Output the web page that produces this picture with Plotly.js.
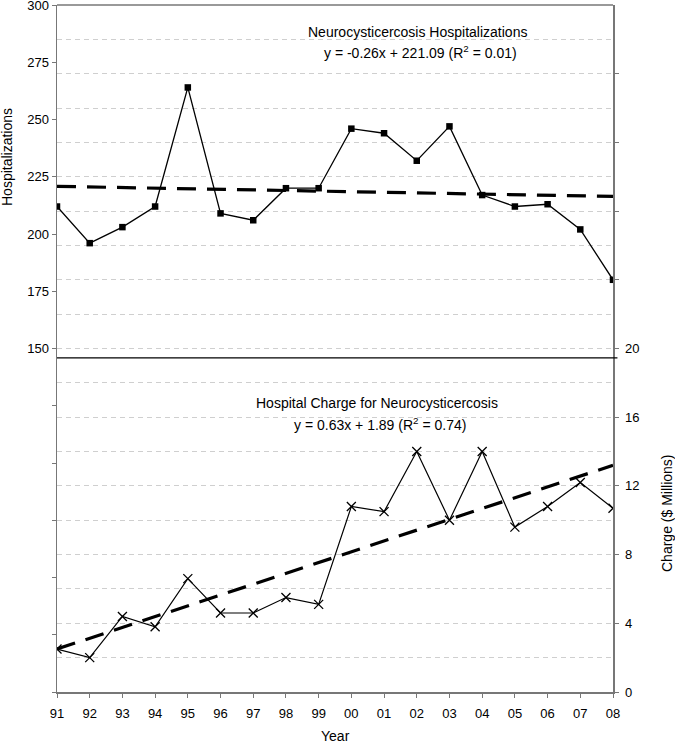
<!DOCTYPE html>
<html>
<head>
<meta charset="utf-8">
<script src="https://cdn.plot.ly/plotly-3.0.1.min.js"></script>
<style>html,body{margin:0;padding:0;background:#fff;}#chart{width:675px;height:742px;}</style>
</head>
<body>
<div id="chart"></div>
<script>
const years = ["91","92","93","94","95","96","97","98","99","00","01","02","03","04","05","06","07","08"];
const hospitalizations = [212,196,203,212,264,209,206,220,220,246,244,232,247,217,212,213,202,180];
const charges = [2.5,2.0,4.4,3.8,6.6,4.6,4.6,5.5,5.1,10.8,10.5,14.0,10.0,14.0,9.6,10.8,12.2,10.7];
const trendYears = ["91","08"];
const hospTrend = [220.8,216.4];
const chargeTrend = [2.5,13.2];
const leftTickVals = [0,25,50,75,100,125,150,175,200,225,250,275,300];
const leftTickText = ["","","","","","","150","175","200","225","250","275","300"];
const rightTickVals = [0,4,8,12,16,20,24,28,32,36];
const rightTickText = ["0","4","8","12","16","20","","","",""];

const fam = "Liberation Sans, Arial, sans-serif";
const tickFont = {family: fam, size: 13, color: "#000"};
const textFont = {family: fam, size: 14, color: "#000"};

const traces = [
  {x: years, y: hospitalizations, type: "scatter", mode: "lines+markers", yaxis: "y",
   line: {color: "#000", width: 1.3}, marker: {symbol: "square", size: 6.5, color: "#000"}, showlegend: false, hoverinfo: "skip"},
  {x: trendYears, y: hospTrend, type: "scatter", mode: "lines", yaxis: "y",
   line: {color: "#000", width: 3.2, dash: "19px,11px"}, showlegend: false, hoverinfo: "skip"},
  {x: years, y: charges, type: "scatter", mode: "lines+markers", yaxis: "y2",
   line: {color: "#000", width: 1.2}, marker: {symbol: "x-thin", size: 9, color: "#000", line: {color: "#000", width: 1.3}}, showlegend: false, hoverinfo: "skip"},
  {x: trendYears, y: chargeTrend, type: "scatter", mode: "lines", yaxis: "y2",
   line: {color: "#000", width: 3.2, dash: "19px,11px"}, showlegend: false, hoverinfo: "skip"}
];

const layout = {
  width: 675, height: 742,
  margin: {l: 57, r: 62, t: 5, b: 50},
  paper_bgcolor: "#fff", plot_bgcolor: "#fff",
  font: textFont,
  xaxis: {
    type: "category", categoryorder: "array", categoryarray: years,
    range: [0, 17], showgrid: false, zeroline: false,
    showline: true, linecolor: "#777", linewidth: 1.5, mirror: false,
    ticks: "outside", ticklen: 4, tickcolor: "#777", ticklabelstandoff: 5,
    tickfont: tickFont
  },
  yaxis: {
    range: [0, 300], tickmode: "array", tickvals: leftTickVals, ticktext: leftTickText,
    showgrid: false, zeroline: false, showline: true, linecolor: "#777", linewidth: 1.5,
    ticks: "outside", ticklen: 4, tickcolor: "#777", ticklabeloverflow: "allow",
    tickfont: tickFont
  },
  yaxis2: {
    overlaying: "y", side: "right", range: [0, 40],
    tickmode: "array", tickvals: rightTickVals, ticktext: rightTickText,
    showgrid: true, gridcolor: "#cfcfcf", gridwidth: 1, griddash: "5px,4px",
    minor: {dtick: 2, tick0: 0, showgrid: true, gridcolor: "#cfcfcf", gridwidth: 1, griddash: "5px,4px", ticks: ""},
    zeroline: false, showline: true, linecolor: "#777", linewidth: 1.5,
    ticks: "outside", ticklen: 4, tickcolor: "#777", ticklabelstandoff: 4, ticklabeloverflow: "allow",
    tickfont: tickFont
  },
  shapes: [
    {type: "line", xref: "paper", yref: "y2", x0: 0, x1: 1.008, y0: 19.45, y1: 19.45, line: {color: "#000", width: 1.3}},
    {type: "line", xref: "paper", yref: "paper", x0: 0, x1: 1, y0: 1, y1: 1, line: {color: "#777", width: 1.5}}
  ],
  annotations: [
    {xref: "paper", yref: "paper", x: (417-57)/556, y: 1-(32-5)/687, text: "Neurocysticercosis Hospitalizations", showarrow: false, font: textFont, xanchor: "center", yanchor: "middle"},
    {xref: "paper", yref: "paper", x: (420-57)/556, y: 1-(52-5)/687, text: "y = -0.26x + 221.09 (R<sup>2</sup> = 0.01)", showarrow: false, font: textFont, xanchor: "center", yanchor: "middle"},
    {xref: "paper", yref: "paper", x: (377-57)/556, y: 1-(403-5)/687, text: "Hospital Charge for Neurocysticercosis", showarrow: false, font: textFont, xanchor: "center", yanchor: "middle"},
    {xref: "paper", yref: "paper", x: (380-57)/556, y: 1-(424-5)/687, text: "y = 0.63x + 1.89 (R<sup>2</sup> = 0.74)", showarrow: false, font: textFont, xanchor: "center", yanchor: "middle"},
    {xref: "paper", yref: "paper", x: (7-57)/556, y: 1-(157-5)/687, text: "Hospitalizations", textangle: -90, showarrow: false, font: textFont, xanchor: "center", yanchor: "middle"},
    {xref: "paper", yref: "paper", x: (667-57)/556, y: 1-(514-5)/687, text: "Charge ($ Millions)", textangle: -90, showarrow: false, font: textFont, xanchor: "center", yanchor: "middle"},
    {xref: "paper", yref: "paper", x: (335-57)/556, y: 1-(736-5)/687, text: "Year", showarrow: false, font: textFont, xanchor: "center", yanchor: "middle"}
  ]
};

Plotly.newPlot("chart", traces, layout, {staticPlot: true, displayModeBar: false});
</script>
</body>
</html>
